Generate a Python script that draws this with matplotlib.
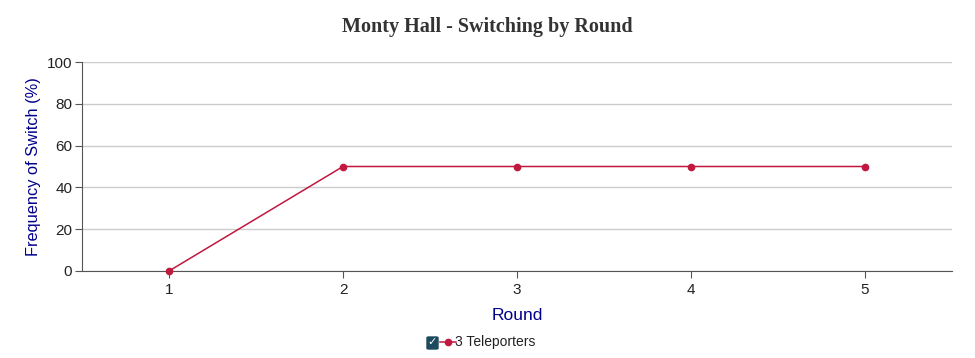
import matplotlib.pyplot as plt
from matplotlib.lines import Line2D
from matplotlib.patches import FancyBboxPatch

rounds = [1, 2, 3, 4, 5]
switch_pct = [0, 50, 50, 50, 50]
yticks = [0, 20, 40, 60, 80, 100]
series_name = "3 Teleporters"

red = "#c0183f"
blue = "#00008b"
plt.rcParams['font.family'] = ['Liberation Sans', 'DejaVu Sans']

fig = plt.figure(figsize=(9.75, 3.58), dpi=100)
ax = fig.add_axes([82/975, 1-271/358, 870/975, 209/358])

ax.plot(rounds, switch_pct, color=red, lw=1.1, marker="o", ms=4.5, clip_on=False, zorder=3)
ax.set_xlim(0.5, 5.5)
ax.set_ylim(0, 100)
ax.set_xticks(rounds)
ax.set_yticks(yticks)
ax.grid(axis="y", color="#cccccc", lw=1)
ax.set_axisbelow(True)
for s in ["top", "right"]:
    ax.spines[s].set_visible(False)
for s in ["left", "bottom"]:
    ax.spines[s].set_color("#555555")
ax.tick_params(colors="#555555", labelcolor="#222222", labelsize=11, length=5)
ax.tick_params(axis="y", pad=2)
ax.set_ylabel("Frequency of Switch (%)", color=blue, fontsize=11.8, labelpad=4)
ax.set_xlabel("Round", color=blue, fontsize=12.5, labelpad=8)

fig.text(0.5, 1-27/358, "Monty Hall - Switching by Round", ha="center", va="center",
         family="Liberation Serif", fontweight="bold", fontsize=14.5, color="#333333")

# legend row
cb = FancyBboxPatch((427/975, 1-349/358), 11/975, 12/358, boxstyle="round,pad=0,rounding_size=0.002",
                    transform=fig.transFigure, color="#1d4a5c")
fig.patches.append(cb)
fig.text(432.5/975, 1-342.5/358, "\u2713", color="white", fontsize=8, ha="center", va="center",
         fontweight="bold", family="DejaVu Sans")
fig.lines.append(Line2D([440/975, 456/975], [1-342/358]*2, transform=fig.transFigure, color=red, lw=1.1))
fig.lines.append(Line2D([448/975], [1-342/358], transform=fig.transFigure, color=red, marker="o", ms=4.5))
fig.text(455/975, 1-342/358, series_name, fontsize=10, va="center", ha="left", color="#222222")

fig.savefig("out.png")
